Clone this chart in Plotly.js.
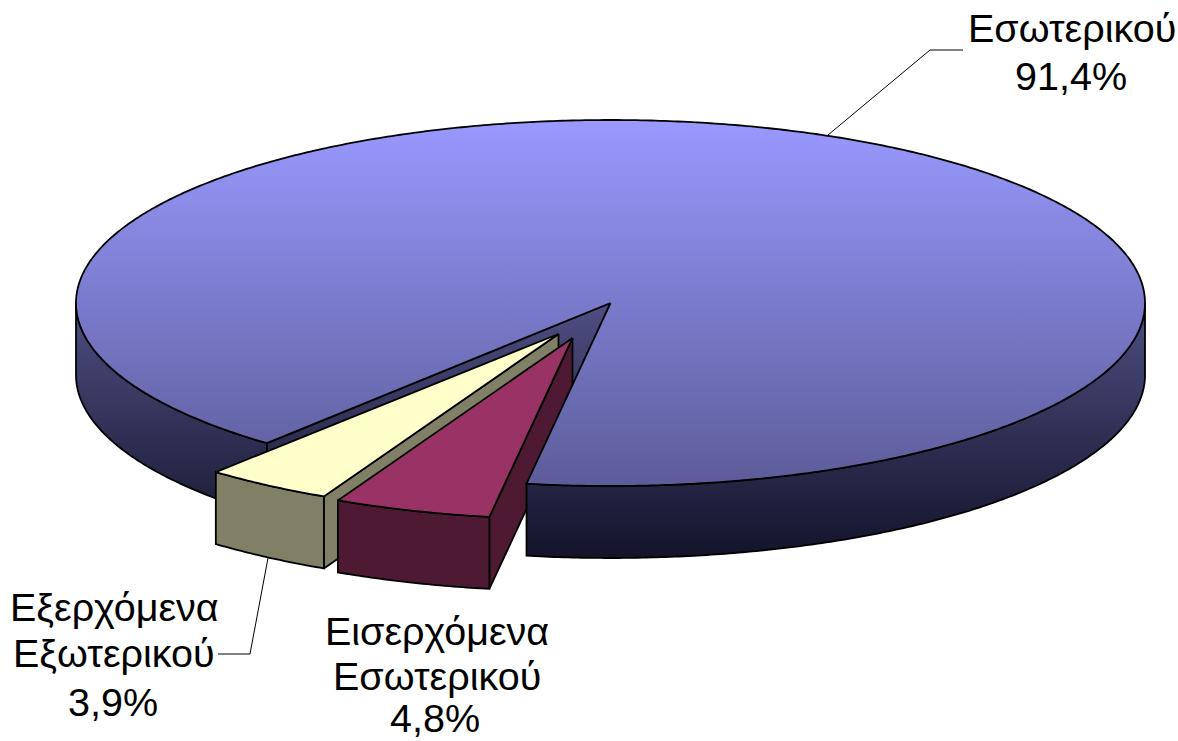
<!DOCTYPE html>
<html>
<head>
<meta charset="utf-8">
<script src="https://cdn.plot.ly/plotly-3.0.1.min.js"></script>
<style>html,body{margin:0;padding:0;background:#fff}#c{width:1178px;height:741px}</style>
</head>
<body>
<div id="c"></div>
<script>
// Data
const categories = ["Εσωτερικού", "Εισερχόμενα Εσωτερικού", "Εξερχόμενα Εξωτερικού"];
const values = [91.4, 4.8, 3.9];
const valueLabels = ["91,4%", "4,8%", "3,9%"];

// Projection of the pie (axis units equal pixels)
const cx = 610.5, cy = 303, rx = 534.5, ry = 183, depth = 72;
const startAngle = 220;                     // degrees clockwise from 12 o'clock
const explode = [[0, 0], [-38, 35], [-52, 31]];
const radiusScale = [1, 0.99, 0.99];
const topColors = ["#9999ff", "#993366", "#ffffcc"];
const sideColors = ["#4d4d80", "#4d1933", "#808066"];

const ang = [startAngle];
values.forEach((v, i) => ang.push(ang[i] + v / 100 * 360));

function pt(th, o, dz, s) {
  const r = th * Math.PI / 180, k = s || 1;
  return [cx + o[0] + k * rx * Math.sin(r), cy + o[1] - k * ry * Math.cos(r) + (dz || 0)];
}
function arc(a, b, o, dz, s) {
  const n = Math.max(2, Math.ceil(Math.abs(b - a) * 2)), out = [];
  for (let i = 0; i <= n; i++) out.push(pt(a + (b - a) * i / n, o, dz, s));
  return out;
}
function apex(o, dz) { return [cx + o[0], cy + o[1] + (dz || 0)]; }
function poly(points, fill) {
  const closed = points.concat([points[0]]);
  const t = {
    x: closed.map(p => p[0]), y: closed.map(p => p[1]),
    mode: "lines", fill: "toself", hoverinfo: "skip", showlegend: false,
    line: {color: "#000", width: 1.8, simplify: false}
  };
  if (typeof fill === "string") t.fillcolor = fill; else t.fillgradient = fill;
  return t;
}
const gradTop = {type: "vertical", start: 120, stop: 486,
  colorscale: [[0, "#9999ff"], [1, "#5c5c99"]]};
const gradWall = {type: "vertical", start: 300, stop: 557,
  colorscale: [[0, "#4f4f84"], [1, "#13132a"]]};

const O = explode[0];
// main slice pieces
const mainStart = ang[0], mainEnd = ang[1];
const notchWall = poly([apex(O), pt(mainStart, O), pt(mainStart, O, depth), apex(O, depth)], gradWall);
const leftWall = poly(arc(mainStart, 270, O).concat(arc(270, mainStart, O, depth)), gradWall);
const rightWall = poly(arc(450, mainEnd, O).concat(arc(mainEnd, 450, O, depth)), gradWall);
const mainTop = poly([apex(O)].concat(arc(mainStart, mainEnd, O)), gradTop);

// exploded slices: indices 1 (maroon) and 2 (cream)
function slice(i) {
  const o = explode[i], a = ang[i], b = ang[i + 1], side = sideColors[i], s = radiusScale[i];
  return {
    inner: poly([apex(o), pt(a, o, 0, s), pt(a, o, depth, s), apex(o, depth)], side),
    front: poly(arc(a, b, o, 0, s).concat(arc(b, a, o, depth, s)), side),
    top: poly([apex(o)].concat(arc(a, b, o, 0, s)), topColors[i])
  };
}
const maroon = slice(1), cream = slice(2);

const leader = (xs, ys) => ({x: xs, y: ys, mode: "lines", hoverinfo: "skip", showlegend: false,
  line: {color: "#000", width: 1}});

const traces = [
  notchWall, leftWall,
  cream.inner, cream.front, cream.top,
  maroon.inner, maroon.front, maroon.top,
  rightWall, mainTop,
  leader([828, 930, 963], [135, 50, 50]),
  leader([268, 250, 218], [558, 654, 654])
];

const labelFont = {family: "Liberation Sans, Arial, sans-serif", size: 39.5, color: "#000"};
const note = (text, x, y) => ({text, x, y, xref: "x", yref: "y", showarrow: false,
  xanchor: "center", yanchor: "middle", font: labelFont});

const layout = {
  width: 1178, height: 741,
  margin: {l: 0, r: 0, t: 0, b: 0},
  paper_bgcolor: "#fff", plot_bgcolor: "#fff",
  showlegend: false,
  xaxis: {range: [0, 1178], visible: false, fixedrange: true},
  yaxis: {range: [741, 0], visible: false, fixedrange: true},
  annotations: [
    note(categories[0], 1072, 28), note(valueLabels[0], 1071, 76),
    note("Εισερχόμενα", 437, 631), note("Εσωτερικού", 437, 676), note(valueLabels[1], 435, 718),
    note("Εξερχόμενα", 114, 607), note("Εξωτερικού", 114, 653), note(valueLabels[2], 113, 702)
  ]
};
Plotly.newPlot("c", traces, layout, {staticPlot: true, displayModeBar: false});
</script>
</body>
</html>
